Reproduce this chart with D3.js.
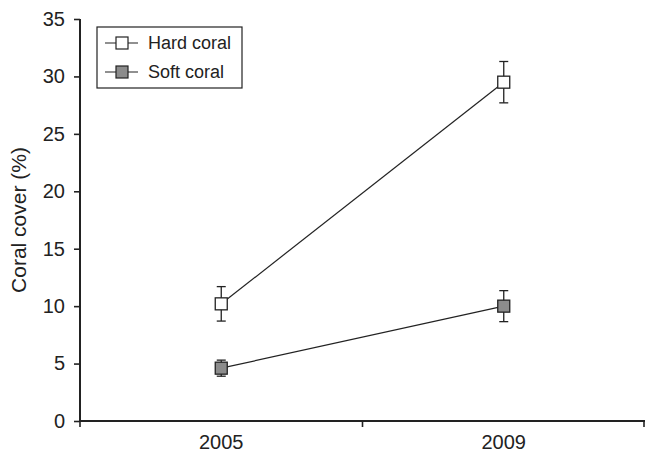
<!DOCTYPE html>
<html>
<head>
<meta charset="utf-8">
<script src="https://cdn.jsdelivr.net/npm/d3@7"></script>
<style>
  body { margin: 0; background: #fff; }
  text { font-family: "Liberation Sans", Arial, sans-serif; fill: #222; }
</style>
</head>
<body>
<div id="chart"></div>
<script>
// data
const years = ["2005", "2009"];
const hardMean = [10.2, 29.5];
const hardErr = [1.5, 1.8];
const softMean = [4.6, 10.0];
const softErr = [0.7, 1.35];
const yTicks = [0, 5, 10, 15, 20, 25, 30, 35];

const width = 646, height = 454;
const margin = { left: 80, right: 1, top: 19, bottom: 33 };

const svg = d3.select("#chart").append("svg")
  .attr("width", width)
  .attr("height", height);

const x = d3.scaleBand().domain(years).range([margin.left, width - margin.right]);
const y = d3.scaleLinear().domain([0, 35]).range([height - margin.bottom, margin.top]);

// y axis
const yAxis = svg.append("g")
  .attr("transform", `translate(${margin.left},0)`)
  .call(d3.axisLeft(y).tickValues(yTicks).tickSize(6).tickPadding(9));
yAxis.select(".domain").attr("stroke", "#222").attr("stroke-width", 2).attr("d", `M0,${y(0)}V${y(35)}`);
yAxis.selectAll(".tick line").attr("stroke", "#222").attr("stroke-width", 1.6);
yAxis.selectAll(".tick text").attr("font-size", 20).attr("font-family", "Liberation Sans, Arial, sans-serif").attr("fill", "#222");

// x axis
const xAxis = svg.append("g")
  .attr("transform", `translate(0,${y(0)})`)
  .call(d3.axisBottom(x).tickSize(0).tickPadding(14));
xAxis.select(".domain").attr("stroke", "#222").attr("stroke-width", 2)
  .attr("d", `M${margin.left},0H${width - margin.right}`);
xAxis.selectAll(".tick text").attr("font-size", 20).attr("font-family", "Liberation Sans, Arial, sans-serif").attr("fill", "#222");
// separator ticks between categories
const edges = [margin.left, x("2009"), width - margin.right - 1];
xAxis.selectAll(".sep").data(edges).enter().append("line")
  .attr("x1", d => d).attr("x2", d => d)
  .attr("y1", 0).attr("y2", 6)
  .attr("stroke", "#222").attr("stroke-width", 1.6);

// y label
svg.append("text")
  .attr("transform", `translate(26,${(y(0) + y(35)) / 2}) rotate(-90)`)
  .attr("text-anchor", "middle")
  .attr("font-size", 21)
  .text("Coral cover (%)");

const series = [
  { name: "Hard coral", mean: hardMean, err: hardErr, fill: "#fff" },
  { name: "Soft coral", mean: softMean, err: softErr, fill: "#8c8c8c" }
];

const cx = yr => x(yr) + x.bandwidth() / 2;
const m = 12;

series.forEach(s => {
  const pts = years.map((yr, i) => ({ yr: yr, v: s.mean[i], e: s.err[i] }));
  const g = svg.append("g");

  g.append("path")
    .datum(pts)
    .attr("fill", "none")
    .attr("stroke", "#222")
    .attr("stroke-width", 1.2)
    .attr("d", d3.line().x(d => cx(d.yr)).y(d => y(d.v)));

  // error bars
  const eb = g.selectAll(".eb").data(pts).enter().append("g");
  eb.append("line")
    .attr("x1", d => cx(d.yr)).attr("x2", d => cx(d.yr))
    .attr("y1", d => y(d.v - d.e)).attr("y2", d => y(d.v + d.e))
    .attr("stroke", "#222").attr("stroke-width", 1.3);
  [-1, 1].forEach(sign => {
    eb.append("line")
      .attr("x1", d => cx(d.yr) - 4.5).attr("x2", d => cx(d.yr) + 4.5)
      .attr("y1", d => y(d.v + sign * d.e)).attr("y2", d => y(d.v + sign * d.e))
      .attr("stroke", "#222").attr("stroke-width", 1.3);
  });

  g.selectAll("rect").data(pts).enter().append("rect")
    .attr("x", d => cx(d.yr) - m / 2)
    .attr("y", d => y(d.v) - m / 2)
    .attr("width", m).attr("height", m)
    .attr("fill", s.fill)
    .attr("stroke", "#222").attr("stroke-width", 1.3);
});

// legend
const lg = svg.append("g").attr("transform", "translate(97,27)");
lg.append("rect")
  .attr("x", 0).attr("y", 0).attr("width", 145).attr("height", 61)
  .attr("fill", "#fff").attr("stroke", "#222").attr("stroke-width", 1.2);
series.forEach((s, i) => {
  const ly = 16 + i * 29;
  lg.append("line")
    .attr("x1", 8).attr("x2", 41).attr("y1", ly).attr("y2", ly)
    .attr("stroke", "#222").attr("stroke-width", 1.2);
  lg.append("rect")
    .attr("x", 25 - 6).attr("y", ly - 6).attr("width", 12).attr("height", 12)
    .attr("fill", s.fill).attr("stroke", "#222").attr("stroke-width", 1.2);
  lg.append("text")
    .attr("x", 51).attr("y", ly + 6)
    .attr("font-size", 18)
    .text(s.name);
});
</script>
</body>
</html>
